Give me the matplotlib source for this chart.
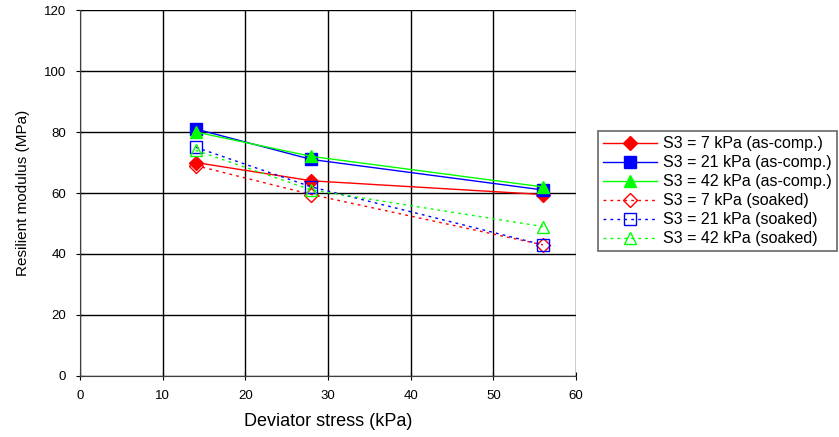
import matplotlib.pyplot as plt

plt.rcParams['font.family'] = ['Liberation Sans', 'DejaVu Sans']

stress = [14, 28, 56]
s7_ascomp = [70, 64, 59.5]
s21_ascomp = [81, 71, 61]
s42_ascomp = [80, 72, 62]
s7_soaked = [69, 59.5, 43]
s21_soaked = [75, 62, 43]
s42_soaked = [74, 61, 49]

fig = plt.figure(figsize=(8.39, 4.37), dpi=100)
ax = fig.add_axes([0.0953, 0.1396, 0.5912, 0.8375])

ax.plot(stress, s7_ascomp, color='#ff0000', marker='D', ms=7, lw=1, label='S3 = 7 kPa (as-comp.)')
ax.plot(stress, s21_ascomp, color='#0000ff', marker='s', ms=8, lw=1, label='S3 = 21 kPa (as-comp.)')
ax.plot(stress, s42_ascomp, color='#00ff00', marker='^', ms=9, lw=1, label='S3 = 42 kPa (as-comp.)')
ax.plot(stress, s7_soaked, color='#ff0000', marker='D', ms=7, lw=1, ls=(0, (2, 3)),
        mfc='none', label='S3 = 7 kPa (soaked)')
ax.plot(stress, s21_soaked, color='#0000ff', marker='s', ms=8, lw=1, ls=(0, (2, 3)),
        mfc='none', label='S3 = 21 kPa (soaked)')
ax.plot(stress, s42_soaked, color='#00ff00', marker='^', ms=9, lw=1, ls=(0, (2, 3)),
        mfc='none', label='S3 = 42 kPa (soaked)')

ax.set_xlim(0, 60)
ax.set_ylim(0, 120)
ax.set_xticks(range(0, 61, 10))
ax.set_yticks(range(0, 121, 20))
ax.grid(True, color='black', lw=1)
ax.tick_params(direction='inout', length=6, labelsize=9.5, pad=7)
for side in ['top', 'right']:
    ax.spines[side].set_visible(False)
ax.spines['left'].set_color('#404040')
ax.spines['bottom'].set_color('#404040')

ax.set_xlabel('Deviator stress (kPa)', fontsize=13, labelpad=8)
ax.set_ylabel('Resilient modulus (MPa)', fontsize=11, labelpad=10)

leg = ax.legend(loc='center left', bbox_to_anchor=(1.044, 0.505), fontsize=11.5, frameon=True,
                fancybox=False, edgecolor='#404040', handlelength=3.4, borderaxespad=0,
                labelspacing=0.25, handletextpad=0.4, borderpad=0.3)
leg.get_frame().set_linewidth(1.2)

fig.savefig('out.png', dpi=100)
